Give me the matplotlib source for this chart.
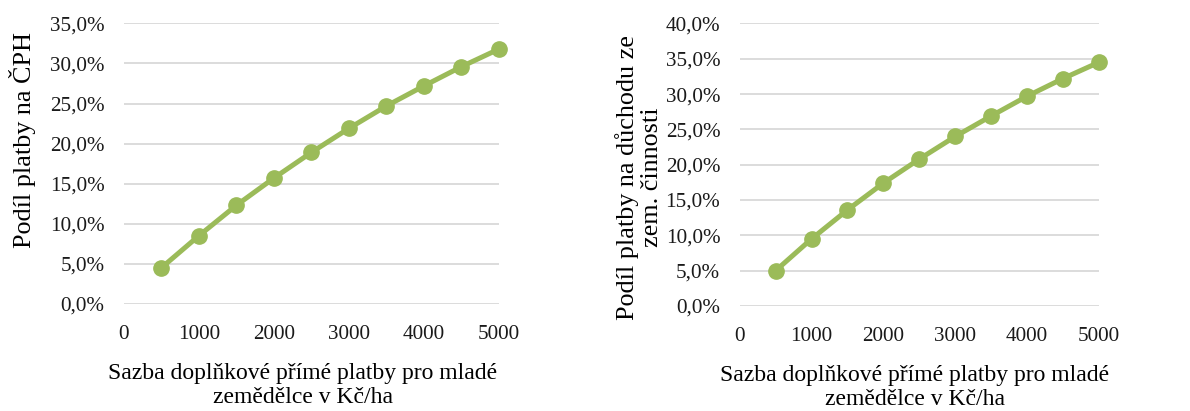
import matplotlib.pyplot as plt
from matplotlib.ticker import FuncFormatter, MultipleLocator

plt.rcParams['font.family'] = ['Liberation Serif', 'DejaVu Serif']

# Sazba doplnkove prime platby (Kc/ha)
sazba = [500, 1000, 1500, 2000, 2500, 3000, 3500, 4000, 4500, 5000]
# Podil platby na CPH (%)
podil_cph = [4.5, 8.5, 12.3, 15.7, 18.9, 21.9, 24.7, 27.2, 29.6, 31.8]
# Podil platby na duchodu ze zem. cinnosti (%)
podil_duchod = [5.0, 9.5, 13.6, 17.4, 20.8, 24.0, 26.9, 29.7, 32.2, 34.5]

xlabel = "Sazba doplňkové přímé platby pro mladé\nzemědělce v Kč/ha"
green = '#9BBB59'

fig = plt.figure(figsize=(11.9, 4.11), dpi=100)
ax1 = fig.add_axes([0.1042, 0.261, 0.3151, 0.682])
ax2 = fig.add_axes([0.6216, 0.2555, 0.3019, 0.6875])

pct = FuncFormatter(lambda v, p: f"{v:.1f}".replace('.', ',') + '%')


def styl(ax, y, ymax, ylabel, ylab_pos, xlab_x):
    ax.plot(sazba, y, color=green, lw=3.6, marker='o', ms=11,
            solid_capstyle='round', zorder=3, clip_on=False)
    ax.set_xlim(0, 5000)
    ax.set_ylim(0, ymax)
    ax.xaxis.set_major_locator(MultipleLocator(1000))
    ax.yaxis.set_major_locator(MultipleLocator(5))
    ax.yaxis.set_major_formatter(pct)
    ax.grid(axis='y', color='#d9d9d9', lw=1.3)
    ax.set_axisbelow(True)
    for s in ax.spines.values():
        s.set_visible(False)
    ax.tick_params(length=0, labelsize=15.2, colors='#1a1a1a')
    ax.tick_params(axis='x', pad=15)
    ax.tick_params(axis='y', pad=14)
    ax.set_xlabel(xlabel, fontsize=17, labelpad=14, linespacing=1.2)
    ax.xaxis.label.set_x(xlab_x)
    ax.set_ylabel(ylabel, fontsize=18.8, linespacing=1.15)
    ax.yaxis.set_label_coords(*ylab_pos)


styl(ax1, podil_cph, 35, "Podíl platby na ČPH", (-0.235, 0.585), 0.477)
styl(ax2, podil_duchod, 40, "Podíl platby na důchodu ze\nzem. činnosti",
     (-0.213, 0.455), 0.488)

fig.savefig('out.png', dpi=100)
